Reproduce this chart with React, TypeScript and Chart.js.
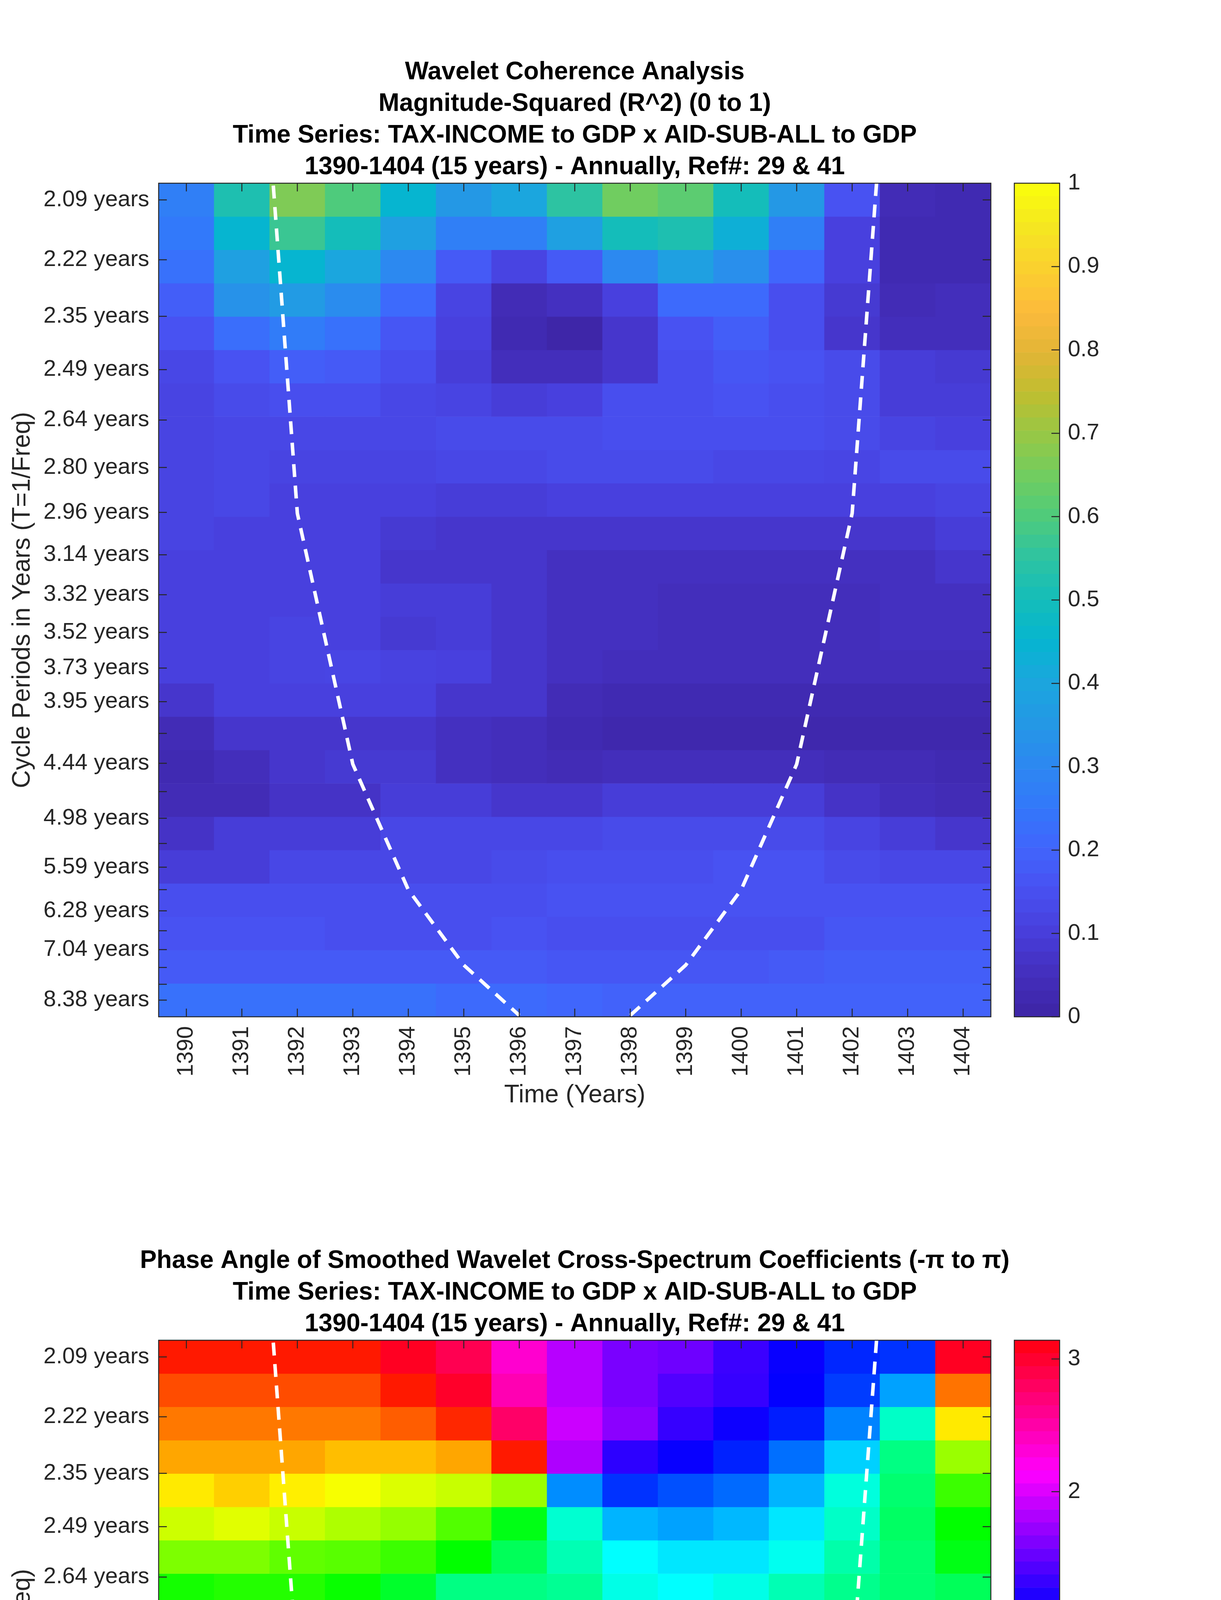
import React, { useEffect, useRef } from 'react';
import { Chart, registerables } from 'chart.js';

Chart.register(...registerables);

const FONT = '"Liberation Sans", Arial, Helvetica, sans-serif';
const AXIS_COLOR = '#262626';

// ---------- axes ----------
const years = [1390, 1391, 1392, 1393, 1394, 1395, 1396, 1397, 1398, 1399, 1400, 1401, 1402, 1403, 1404];
const xTickLabels = ['1390', '1391', '1392', '1393', '1394', '1395', '1396', '1397', '1398', '1399', '1400', '1401', '1402', '1403', '1404'];

const periods = [2.0942, 2.2187, 2.3507, 2.4904, 2.6385, 2.7954, 2.9617, 3.1378, 3.3243, 3.522, 3.7314, 3.9533,
  4.1884, 4.4375, 4.7013, 4.9809, 5.277, 5.5908, 5.9233, 6.2755, 6.6487, 7.044, 7.4629, 7.9067, 8.3768];
const yTickLabels = ['2.09 years', '2.22 years', '2.35 years', '2.49 years', '2.64 years', '2.80 years', '2.96 years',
  '3.14 years', '3.32 years', '3.52 years', '3.73 years', '3.95 years', '', '4.44 years', '', '4.98 years', '',
  '5.59 years', '', '6.28 years', '', '7.04 years', '', '', '8.38 years'];

const cohTicks = [0, 0.1, 0.2, 0.3, 0.4, 0.5, 0.6, 0.7, 0.8, 0.9, 1];
const cohTickLabels = ['0', '0.1', '0.2', '0.3', '0.4', '0.5', '0.6', '0.7', '0.8', '0.9', '1'];
const phaseTicks = [-3, -2, -1, 0, 1, 2, 3];
const phaseTickLabels = ['-3', '-2', '-1', '0', '1', '2', '3'];

// ---------- cone of influence (period in years) ----------
const coiLeftYears = [1391, 1392, 1393, 1394, 1395, 1396];
const coiLeftPeriods = [1.48, 2.965, 4.445, 5.925, 7.405, 8.885];
const coiRightYears = [1398, 1399, 1400, 1401, 1402, 1403];
const coiRightPeriods = [8.885, 7.405, 5.925, 4.445, 2.965, 1.485];

// ---------- magnitude-squared coherence, one row per period (top = 2.09 yrs) ----------
const coh_p0 = [0.27, 0.52, 0.67, 0.60, 0.45, 0.35, 0.40, 0.55, 0.65, 0.62, 0.50, 0.35, 0.15, 0.03, 0.02];
const coh_p1 = [0.25, 0.45, 0.57, 0.50, 0.38, 0.27, 0.27, 0.38, 0.50, 0.52, 0.43, 0.27, 0.10, 0.02, 0.02];
const coh_p2 = [0.23, 0.38, 0.45, 0.40, 0.30, 0.17, 0.11, 0.17, 0.30, 0.38, 0.32, 0.20, 0.10, 0.02, 0.02];
const coh_p3 = [0.18, 0.33, 0.36, 0.31, 0.21, 0.11, 0.03, 0.05, 0.10, 0.21, 0.21, 0.14, 0.08, 0.03, 0.04];
const coh_p4 = [0.15, 0.22, 0.26, 0.23, 0.16, 0.10, 0.02, 0.00, 0.07, 0.15, 0.18, 0.14, 0.07, 0.04, 0.04];
const coh_p5 = [0.12, 0.15, 0.18, 0.17, 0.14, 0.09, 0.04, 0.04, 0.07, 0.14, 0.16, 0.15, 0.13, 0.09, 0.08];
const coh_p6 = [0.11, 0.13, 0.14, 0.14, 0.12, 0.11, 0.09, 0.10, 0.14, 0.14, 0.15, 0.14, 0.13, 0.09, 0.09];
const coh_p7 = [0.11, 0.12, 0.12, 0.12, 0.12, 0.13, 0.13, 0.13, 0.14, 0.14, 0.14, 0.14, 0.13, 0.11, 0.10];
const coh_p8 = [0.11, 0.12, 0.11, 0.11, 0.11, 0.12, 0.12, 0.13, 0.13, 0.13, 0.12, 0.12, 0.115, 0.13, 0.13];
const coh_p9 = [0.11, 0.12, 0.10, 0.10, 0.10, 0.09, 0.09, 0.10, 0.10, 0.10, 0.10, 0.10, 0.10, 0.10, 0.11];
const coh_p10 = [0.11, 0.10, 0.10, 0.10, 0.08, 0.07, 0.07, 0.07, 0.07, 0.07, 0.07, 0.07, 0.07, 0.07, 0.09];
const coh_p11 = [0.10, 0.10, 0.10, 0.10, 0.07, 0.07, 0.07, 0.05, 0.05, 0.05, 0.05, 0.05, 0.05, 0.05, 0.07];
const coh_p12 = [0.10, 0.10, 0.10, 0.10, 0.09, 0.09, 0.07, 0.05, 0.05, 0.04, 0.04, 0.04, 0.04, 0.05, 0.05];
const coh_p13 = [0.10, 0.10, 0.11, 0.10, 0.08, 0.09, 0.07, 0.05, 0.05, 0.04, 0.04, 0.04, 0.04, 0.05, 0.05];
const coh_p14 = [0.10, 0.10, 0.11, 0.115, 0.105, 0.10, 0.07, 0.05, 0.04, 0.04, 0.04, 0.04, 0.04, 0.04, 0.04];
const coh_p15 = [0.07, 0.10, 0.10, 0.10, 0.10, 0.07, 0.07, 0.03, 0.02, 0.02, 0.02, 0.02, 0.02, 0.02, 0.02];
const coh_p16 = [0.03, 0.07, 0.07, 0.07, 0.07, 0.05, 0.04, 0.02, 0.01, 0.01, 0.01, 0.01, 0.01, 0.01, 0.01];
const coh_p17 = [0.02, 0.04, 0.07, 0.08, 0.08, 0.05, 0.04, 0.03, 0.04, 0.04, 0.04, 0.04, 0.03, 0.03, 0.02];
const coh_p18 = [0.03, 0.03, 0.06, 0.06, 0.09, 0.09, 0.07, 0.07, 0.09, 0.09, 0.09, 0.09, 0.06, 0.04, 0.03];
const coh_p19 = [0.06, 0.09, 0.09, 0.09, 0.12, 0.12, 0.12, 0.12, 0.13, 0.13, 0.13, 0.13, 0.11, 0.09, 0.07];
const coh_p20 = [0.09, 0.09, 0.12, 0.12, 0.12, 0.12, 0.13, 0.14, 0.14, 0.14, 0.15, 0.15, 0.13, 0.12, 0.12];
const coh_p21 = [0.14, 0.14, 0.14, 0.14, 0.14, 0.14, 0.14, 0.15, 0.15, 0.15, 0.15, 0.15, 0.15, 0.15, 0.15];
const coh_p22 = [0.15, 0.15, 0.15, 0.14, 0.14, 0.14, 0.15, 0.14, 0.14, 0.14, 0.14, 0.14, 0.16, 0.16, 0.16];
const coh_p23 = [0.17, 0.17, 0.17, 0.17, 0.17, 0.17, 0.17, 0.16, 0.16, 0.16, 0.16, 0.17, 0.18, 0.18, 0.18];
const coh_p24 = [0.23, 0.23, 0.23, 0.23, 0.23, 0.21, 0.21, 0.20, 0.19, 0.19, 0.19, 0.19, 0.19, 0.19, 0.19];

// ---------- phase angle (radians), one row per period ----------
const ph_p0 = [-3.04, -3.04, -3.04, -3.04, 3.00, 2.81, 2.29, 1.80, 1.55, 1.50, 1.29, 1.08, 0.89, 0.84, 3.00];
const ph_p1 = [-2.83, -2.83, -2.83, -2.83, -3.04, 2.97, 2.41, 1.80, 1.55, 1.38, 1.27, 1.06, 0.80, 0.38, -2.67];
const ph_p2 = [-2.65, -2.65, -2.65, -2.65, -2.76, -2.98, 2.72, 1.88, 1.62, 1.27, 1.10, 0.93, 0.51, -0.23, -2.18];
const ph_p3 = [-2.46, -2.46, -2.46, -2.36, -2.36, -2.46, -3.04, 1.76, 1.23, 1.08, 0.91, 0.59, 0.19, -0.51, -1.68];
const ph_p4 = [-2.18, -2.29, -2.16, -2.06, -1.95, -1.87, -1.68, 0.47, 0.84, 0.72, 0.61, 0.31, -0.14, -0.59, -1.29];
const ph_p5 = [-1.89, -1.97, -1.87, -1.76, -1.66, -1.38, -0.96, -0.19, 0.31, 0.38, 0.29, 0.10, -0.23, -0.64, -1.05];
const ph_p6 = [-1.56, -1.56, -1.44, -1.41, -1.29, -1.05, -0.68, -0.31, 0.00, 0.10, 0.10, -0.06, -0.35, -0.59, -0.96];
const ph_p7 = [-1.13, -1.19, -1.19, -1.08, -0.87, -0.51, -0.51, -0.44, -0.10, 0.00, -0.10, -0.31, -0.47, -0.59, -0.68];
const ph_p8 = [-0.87, -0.98, -0.86, -0.86, -0.64, -0.56, -0.38, -0.26, -0.12, -0.10, -0.23, -0.47, -0.56, -0.59, -0.64];
const ph_p9 = [-0.64, -0.75, -0.75, -0.68, -0.64, -0.35, -0.29, -0.23, -0.14, -0.26, -0.35, -0.56, -0.56, -0.59, -0.64];
const ph_p10 = [-0.59, -0.59, -0.59, -0.59, -0.51, -0.35, -0.29, -0.19, -0.29, -0.35, -0.56, -0.59, -0.59, -0.59, -0.64];
const ph_p11 = [-0.57, -0.57, -0.57, -0.57, -0.51, -0.33, -0.33, -0.31, -0.35, -0.56, -0.70, -0.75, -0.59, -0.59, -0.64];
const ph_p12 = [-0.51, -0.51, -0.51, -0.51, -0.44, -0.33, -0.33, -0.35, -0.64, -0.72, -0.83, -0.87, -0.72, -0.59, -0.64];
const ph_p13 = [-0.38, -0.38, -0.29, -0.29, -0.31, -0.23, -0.25, -0.31, -0.51, -0.75, -0.96, -0.92, -0.78, -0.59, -0.47];
const ph_p14 = [-0.12, -0.12, -0.12, -0.12, 0.00, 0.00, -0.10, -0.14, -0.31, -0.72, -0.96, -1.05, -0.83, -0.56, -0.26];
const ph_p15 = [0.21, 0.21, 0.21, 0.21, 0.31, 0.31, 0.31, 0.21, 0.10, -0.51, -1.17, -1.40, -1.05, -0.31, 0.00];
const ph_p16 = [0.59, 0.59, 0.59, 0.59, 0.70, 0.70, 0.84, 1.05, 1.26, 2.36, -3.12, -2.96, -3.12, 1.59, 0.76];
const ph_p17 = [1.17, 1.05, 1.05, 1.05, 1.17, 1.21, 1.47, 1.76, 2.24, 2.69, 2.94, 2.94, 2.94, 2.56, 1.97];
const ph_p18 = [1.96, 1.75, 1.69, 1.62, 1.75, 1.83, 2.16, 2.55, 2.48, 2.69, 2.94, 2.94, 2.94, 2.73, 2.65];
const ph_p19 = [2.41, 2.30, 2.16, 2.16, 2.18, 2.24, 2.48, 2.71, 2.63, 2.81, 2.94, 2.94, 2.94, 2.81, 2.73];
const ph_p20 = [2.69, 2.56, 2.55, 2.55, 2.53, 2.61, 2.75, 2.85, 2.89, 2.94, 2.98, 3.04, 2.98, 2.92, 2.92];
const ph_p21 = [2.81, 2.75, 2.77, 2.77, 2.77, 2.77, 2.81, 2.89, 2.96, 2.98, 3.00, 3.04, 3.02, 2.98, 2.96];
const ph_p22 = [2.96, 2.96, 2.83, 2.83, 2.83, 2.83, 2.89, 2.98, 3.06, 3.04, 3.10, 3.12, 3.02, 3.02, 3.00];
const ph_p23 = [2.96, 2.96, 2.94, 2.94, 2.94, 2.94, 2.94, 2.96, 3.00, 3.00, 3.00, 3.00, 3.00, 3.00, 3.00];
const ph_p24 = [3.04, 2.94, 2.94, 2.94, 2.94, 2.94, 2.89, 2.96, 2.94, 2.98, 2.98, 2.98, 3.02, 3.02, 3.02];

const cohRows = [coh_p0, coh_p1, coh_p2, coh_p3, coh_p4, coh_p5, coh_p6, coh_p7, coh_p8, coh_p9, coh_p10, coh_p11,
  coh_p12, coh_p13, coh_p14, coh_p15, coh_p16, coh_p17, coh_p18, coh_p19, coh_p20, coh_p21, coh_p22, coh_p23, coh_p24];
const phaseRows = [ph_p0, ph_p1, ph_p2, ph_p3, ph_p4, ph_p5, ph_p6, ph_p7, ph_p8, ph_p9, ph_p10, ph_p11,
  ph_p12, ph_p13, ph_p14, ph_p15, ph_p16, ph_p17, ph_p18, ph_p19, ph_p20, ph_p21, ph_p22, ph_p23, ph_p24];

const titleTop = [
  'Wavelet Coherence Analysis',
  'Magnitude-Squared (R^2) (0 to 1)',
  'Time Series: TAX-INCOME to GDP x AID-SUB-ALL to GDP',
  '1390-1404 (15 years) - Annually, Ref#: 29 & 41',
];
const titleBottom = [
  'Phase Angle of Smoothed Wavelet Cross-Spectrum Coefficients (-π to π)',
  'Time Series: TAX-INCOME to GDP x AID-SUB-ALL to GDP',
  '1390-1404 (15 years) - Annually, Ref#: 29 & 41',
];

// ---------- colormaps ----------
const PARULA: number[][] = [
  [0.0, 62, 38, 168], [0.05, 68, 48, 192], [0.1, 72, 64, 222], [0.15, 72, 82, 242], [0.2, 64, 102, 252],
  [0.25, 50, 121, 250], [0.3, 44, 137, 240], [0.35, 36, 152, 229], [0.4, 27, 166, 222], [0.45, 6, 181, 208],
  [0.5, 20, 189, 186], [0.55, 45, 195, 162], [0.6, 78, 203, 124], [0.65, 112, 205, 96], [0.7, 150, 200, 70],
  [0.75, 190, 190, 48], [0.8, 226, 181, 54], [0.85, 252, 186, 60], [0.9, 251, 207, 47], [0.95, 245, 229, 34],
  [1.0, 249, 251, 14],
];

function parula(t: number): string {
  const v = Math.min(1, Math.max(0, t));
  for (let i = 1; i < PARULA.length; i++) {
    const a = PARULA[i - 1];
    const b = PARULA[i];
    if (v <= b[0]) {
      const f = (v - a[0]) / (b[0] - a[0]);
      const r = Math.round(a[1] + (b[1] - a[1]) * f);
      const g = Math.round(a[2] + (b[2] - a[2]) * f);
      const bl = Math.round(a[3] + (b[3] - a[3]) * f);
      return `rgb(${r},${g},${bl})`;
    }
  }
  return 'rgb(249,251,14)';
}

function hueColor(h: number): string {
  const hh = Math.min(Math.max(h, 0), 0.99999) * 6;
  const i = Math.floor(hh);
  const f = hh - i;
  const q = 1 - f;
  let r = 0, g = 0, b = 0;
  switch (i) {
    case 0: r = 1; g = f; b = 0; break;
    case 1: r = q; g = 1; b = 0; break;
    case 2: r = 0; g = 1; b = f; break;
    case 3: r = 0; g = q; b = 1; break;
    case 4: r = f; g = 0; b = 1; break;
    default: r = 1; g = 0; b = q; break;
  }
  return `rgb(${Math.round(r * 255)},${Math.round(g * 255)},${Math.round(b * 255)})`;
}

function phaseColor(v: number): string {
  return hueColor((v + Math.PI) / (2 * Math.PI));
}

// ---------- plugin: pin the plot box to an exact rectangle ----------
const areaPlugin = {
  id: 'fixArea',
  afterLayout(chart: any, _args: any, o: any) {
    if (!o || o.left === undefined) return;
    const ca = chart.chartArea;
    ca.left = o.left; ca.right = o.right; ca.top = o.top; ca.bottom = o.bottom;
    ca.width = o.right - o.left; ca.height = o.bottom - o.top;
    const xs = chart.scales.x;
    if (xs) {
      const h = xs.height;
      xs.left = o.left; xs.right = o.right; xs.width = o.right - o.left;
      xs.top = o.bottom; xs.bottom = o.bottom + h;
      xs.configure();
    }
    const ys = chart.scales.y;
    if (ys) {
      const w = ys.width;
      ys.top = o.top; ys.bottom = o.bottom; ys.height = o.bottom - o.top;
      if (ys.position === 'right') { ys.left = o.right; ys.right = o.right + w; }
      else { ys.right = o.left; ys.left = o.left - w; }
      ys.configure();
    }
  },
};

// ---------- plugin: MATLAB-like box with inward ticks ----------
const framePlugin = {
  id: 'frame',
  afterDatasetsDraw(chart: any, _args: any, opts: any) {
    const { ctx, chartArea } = chart;
    const { left, right, top, bottom } = chartArea;
    const L = opts.length || 21;
    ctx.save();
    ctx.strokeStyle = opts.color || AXIS_COLOR;
    ctx.lineWidth = opts.lineWidth || 2.5;
    ctx.beginPath();
    if (opts.xTicks && chart.scales.x) {
      const xs = chart.scales.x;
      for (const t of xs.ticks) {
        const p = xs.getPixelForValue(t.value);
        ctx.moveTo(p, bottom); ctx.lineTo(p, bottom - L);
        ctx.moveTo(p, top); ctx.lineTo(p, top + L);
      }
    }
    const ys = chart.scales.y;
    if (ys) {
      for (const t of ys.ticks) {
        const p = ys.getPixelForValue(t.value);
        if (opts.yLeft) { ctx.moveTo(left, p); ctx.lineTo(left + L, p); }
        if (opts.yRight) { ctx.moveTo(right, p); ctx.lineTo(right - L, p); }
      }
    }
    ctx.stroke();
    ctx.strokeRect(left, top, right - left, bottom - top);
    ctx.restore();
  },
};

const PLOT_W = 2942; // heatmap canvas width (plot box centred on x = 1471)
const CANVAS_H = 2900;
const BOX = { left: 406, right: 2536, top: 469, bottom: 2603 };
const BAR_W = 565;
const BAR_BOX = { left: 36, right: 152, top: 469, bottom: 2603 };

function makeHeatmap(canvas: HTMLCanvasElement, rows: number[][], colorFn: (v: number) => string,
  title: string[], titlePadTop: number): Chart {
  const n = periods.length;
  const f0 = 1 / periods[0];
  const fN = 1 / periods[n - 1];
  const df = (f0 - fN) / (n - 1);
  const datasets: any[] = rows.map((row, k) => {
    const c = f0 - k * df;
    return {
      type: 'bar',
      data: years.map((yr) => ({ x: yr, y: [c - df / 2, c + df / 2] })),
      backgroundColor: row.map(colorFn),
      borderWidth: 0,
      barPercentage: 1,
      categoryPercentage: 1,
      grouped: false,
      order: 2,
    };
  });
  const coiStyle = {
    type: 'line',
    borderColor: '#ffffff',
    borderWidth: 9,
    borderDash: [33, 22],
    borderCapStyle: 'butt',
    pointRadius: 0,
    fill: false,
    tension: 0,
    order: 0,
  };
  datasets.push({ ...coiStyle, data: coiLeftYears.map((x, i) => ({ x, y: 1 / coiLeftPeriods[i] })) });
  datasets.push({ ...coiStyle, data: coiRightYears.map((x, i) => ({ x, y: 1 / coiRightPeriods[i] })) });

  return new Chart(canvas, {
    type: 'bar',
    data: { datasets },
    plugins: [areaPlugin, framePlugin],
    options: {
      animation: false,
      responsive: false,
      events: [],
      layout: { padding: 0 },
      plugins: {
        legend: { display: false },
        tooltip: { enabled: false },
        title: {
          display: true,
          text: title,
          color: '#000000',
          font: { size: 64, weight: 'bold', lineHeight: '81px', family: FONT },
          padding: { top: titlePadTop, bottom: 0 },
        },
        fixArea: BOX,
        frame: { xTicks: true, yLeft: true, yRight: true, length: 21, lineWidth: 2.5, color: AXIS_COLOR },
      } as any,
      scales: {
        x: {
          type: 'linear',
          offset: false,
          min: 1389.5,
          max: 1404.5,
          afterBuildTicks: (s: any) => { s.ticks = years.map((v) => ({ value: v })); },
          afterFit: (s: any) => { s.height = CANVAS_H - BOX.bottom; s.paddingLeft = 0; s.paddingRight = 0; },
          grid: { display: false, drawTicks: false },
          border: { display: false },
          ticks: {
            autoSkip: false, maxRotation: 90, minRotation: 90, padding: 24,
            color: AXIS_COLOR, font: { size: 58, family: FONT },
            callback: (_v: any, i: number) => xTickLabels[i],
          },
          title: {
            display: true, text: 'Time (Years)', color: AXIS_COLOR,
            font: { size: 64, family: FONT }, padding: { top: 0, bottom: 57 },
          },
        },
        y: {
          type: 'linear',
          min: fN - df / 2,
          max: f0 + df / 2,
          afterBuildTicks: (s: any) => { s.ticks = periods.map((p) => ({ value: 1 / p })); },
          afterFit: (s: any) => { s.width = BOX.left; s.paddingTop = 0; s.paddingBottom = 0; },
          grid: { display: false, drawTicks: false },
          border: { display: false },
          ticks: {
            autoSkip: false, padding: 24, color: AXIS_COLOR, font: { size: 58, family: FONT },
            callback: (_v: any, i: number) => yTickLabels[i],
          },
          title: {
            display: true, text: 'Cycle Periods in Years (T=1/Freq)', color: AXIS_COLOR,
            font: { size: 64, family: FONT }, padding: { top: 20, bottom: 0 },
          },
        },
      } as any,
    },
  } as any);
}

function makeColorbar(canvas: HTMLCanvasElement, min: number, max: number, bandColor: (i: number) => string,
  ticks: number[], tickLabels: string[]): Chart {
  const bands = 64;
  const step = (max - min) / bands;
  const datasets: any[] = [];
  for (let i = 0; i < bands; i++) {
    datasets.push({
      data: [[min + i * step, min + (i + 1) * step]],
      backgroundColor: bandColor(i),
      borderWidth: 0,
      barPercentage: 1,
      categoryPercentage: 1,
      grouped: false,
    });
  }
  return new Chart(canvas, {
    type: 'bar',
    data: { labels: ['colorbar'], datasets },
    plugins: [areaPlugin, framePlugin],
    options: {
      animation: false,
      responsive: false,
      events: [],
      layout: { padding: { left: BAR_BOX.left, right: 0, top: BAR_BOX.top, bottom: CANVAS_H - BAR_BOX.bottom } },
      plugins: {
        legend: { display: false },
        tooltip: { enabled: false },
        title: { display: false },
        fixArea: BAR_BOX,
        frame: { xTicks: false, yLeft: false, yRight: true, length: 21, lineWidth: 2.5, color: AXIS_COLOR },
      } as any,
      scales: {
        x: { display: false },
        y: {
          position: 'right',
          min, max,
          afterBuildTicks: (s: any) => { s.ticks = ticks.map((v) => ({ value: v })); },
          afterFit: (s: any) => { s.width = BAR_W - BAR_BOX.right; s.paddingTop = 0; s.paddingBottom = 0; },
          grid: { display: false, drawTicks: false },
          border: { display: false },
          ticks: {
            autoSkip: false, padding: 21, color: AXIS_COLOR, font: { size: 58, family: FONT },
            callback: (_v: any, i: number) => tickLabels[i],
          },
        },
      } as any,
    },
  } as any);
}

export default function App() {
  const topHeat = useRef<HTMLCanvasElement>(null);
  const topBar = useRef<HTMLCanvasElement>(null);
  const botHeat = useRef<HTMLCanvasElement>(null);
  const botBar = useRef<HTMLCanvasElement>(null);

  useEffect(() => {
    Chart.defaults.font.family = FONT;
    Chart.defaults.color = AXIS_COLOR;
    const charts = [
      makeHeatmap(topHeat.current!, cohRows, parula, titleTop, 145),
      makeColorbar(topBar.current!, 0, 1, (i) => parula(i / 63), cohTicks, cohTickLabels),
      makeHeatmap(botHeat.current!, phaseRows, phaseColor, titleBottom, 226),
      makeColorbar(botBar.current!, -Math.PI, Math.PI, (i) => hueColor(i / 64), phaseTicks, phaseTickLabels),
    ];
    return () => charts.forEach((c) => c.destroy());
  }, []);

  const abs = (left: number, top: number, w: number, h: number): React.CSSProperties => ({
    position: 'absolute', left, top, width: w, height: h,
  });

  return (
    <div style={{ position: 'absolute', left: 0, top: 0, width: 3125, height: 6252, background: '#ffffff', overflow: 'hidden' }}>
      <canvas ref={topHeat} width={PLOT_W} height={CANVAS_H} style={abs(0, 0, PLOT_W, CANVAS_H)} />
      <canvas ref={topBar} width={BAR_W} height={CANVAS_H} style={abs(2560, 0, BAR_W, CANVAS_H)} />
      <canvas ref={botHeat} width={PLOT_W} height={CANVAS_H} style={abs(0, 2962, PLOT_W, CANVAS_H)} />
      <canvas ref={botBar} width={BAR_W} height={CANVAS_H} style={abs(2560, 2962, BAR_W, CANVAS_H)} />
    </div>
  );
}
